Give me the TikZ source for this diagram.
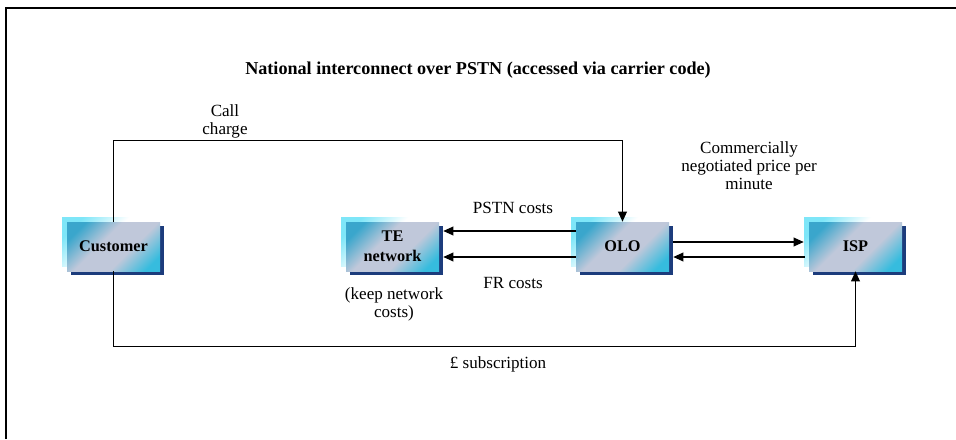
\documentclass[tikz,border=0pt]{standalone}
\usepackage{fontspec}
\setmainfont{Liberation Serif}
\usetikzlibrary{arrows.meta,calc,shadows}

\definecolor{boxteal}{HTML}{3AA6CC}
\definecolor{boxgray}{HTML}{C0C8DA}
\definecolor{boxcyan}{HTML}{36BCDE}
\definecolor{glowcyan}{HTML}{7EE6F8}
\definecolor{shadowblue}{HTML}{1C3C7C}

% diagonal fill of the party boxes: teal corner, grey-lavender body, cyan corner
\pgfdeclarehorizontalshading{boxshade}{100bp}{color(0bp)=(boxteal); color(24bp)=(boxteal); color(42bp)=(boxgray); color(60bp)=(boxgray); color(78bp)=(boxcyan); color(100bp)=(boxcyan)}
% soft halo peeking out at the upper left of each box
\pgfdeclarehorizontalshading{glowshade}{100bp}{color(0bp)=(glowcyan); color(25bp)=(glowcyan); color(48bp)=(white); color(100bp)=(white)}

\tikzset{
  party/.style={minimum width=69.75pt, minimum height=36.75pt, inner sep=0pt,
    align=center, font=\fontsize{12.2}{14.8}\selectfont\bfseries,
    general shadow={shadow xshift=-3.75pt, shadow yshift=3.75pt, shading=glowshade, shading angle=-45},
    general shadow={shadow xshift=3pt, shadow yshift=-3pt, fill=shadowblue},
    shading=boxshade, shading angle=-45},
  lbl/.style={align=center, font=\fontsize{12.8}{13.5}\selectfont},
  link/.style={line width=1pt},
  arr/.style={link, -{Triangle[length=7.5pt,width=6.5pt]}},
}

\begin{document}
\begin{tikzpicture}[x=0.75pt, y=-0.75pt]
  \useasboundingbox (0,0) rectangle (956,439);
  \fill[white] (0,0) rectangle (956,439);

  % frame
  \draw[line width=1.5pt] (6,439) -- (6,7.5) -- (956,7.5);

  % title
  \node[font=\fontsize{13.6}{16}\selectfont\bfseries] (title) at (478,70)
    {National interconnect over PSTN (accessed via carrier code)};

  % parties
  \node[party] (cust) at (113.5,246.5) {Customer};
  \node[party] (te)   at (392.5,246.5) {TE\\network};
  \node[party] (olo)  at (622.5,246.5) {OLO};
  \node[party] (isp)  at (855.5,246.5) {ISP};

  % call charge loop: customer to OLO over the top
  \coordinate (ctop) at ($(cust.north)+(0,-81)$);
  \draw[arr] (cust.north) -- (ctop) -| (olo.north);

  % subscription loop: customer to ISP along the bottom
  \coordinate (cbot) at ($(cust.south)+(0,75)$);
  \draw[arr] (cust.south) -- (cbot) -| (isp.south);

  % OLO pays TE network
  \draw[arr] ($(olo.west)+(0,-15.5)$) -- ($(te.east)+(4,-15.5)$);
  \draw[arr] ($(olo.west)+(0,10.5)$) -- ($(te.east)+(4,10.5)$);

  % OLO and ISP settle per minute
  \draw[arr] ($(olo.east)+(4,-4.5)$) -- ($(isp.west)+(-5,-4.5)$);
  \draw[arr] ($(isp.west)+(-4,10.5)$) -- ($(olo.east)+(4,10.5)$);

  % labels
  \node[lbl] (callcharge) at (225,121.5) {Call\\charge};
  \node[lbl] (pstn) at (513,208) {PSTN costs};
  \node[lbl] (fr) at (513,283) {FR costs};
  \node[lbl] (keep) at (394,304.5) {(keep network\\costs)};
  \node[lbl] (comm) at (749,166) {Commercially\\negotiated price per\\minute};
  \node[lbl] (subs) at (498,364) {£ subscription};
\end{tikzpicture}
\end{document}
